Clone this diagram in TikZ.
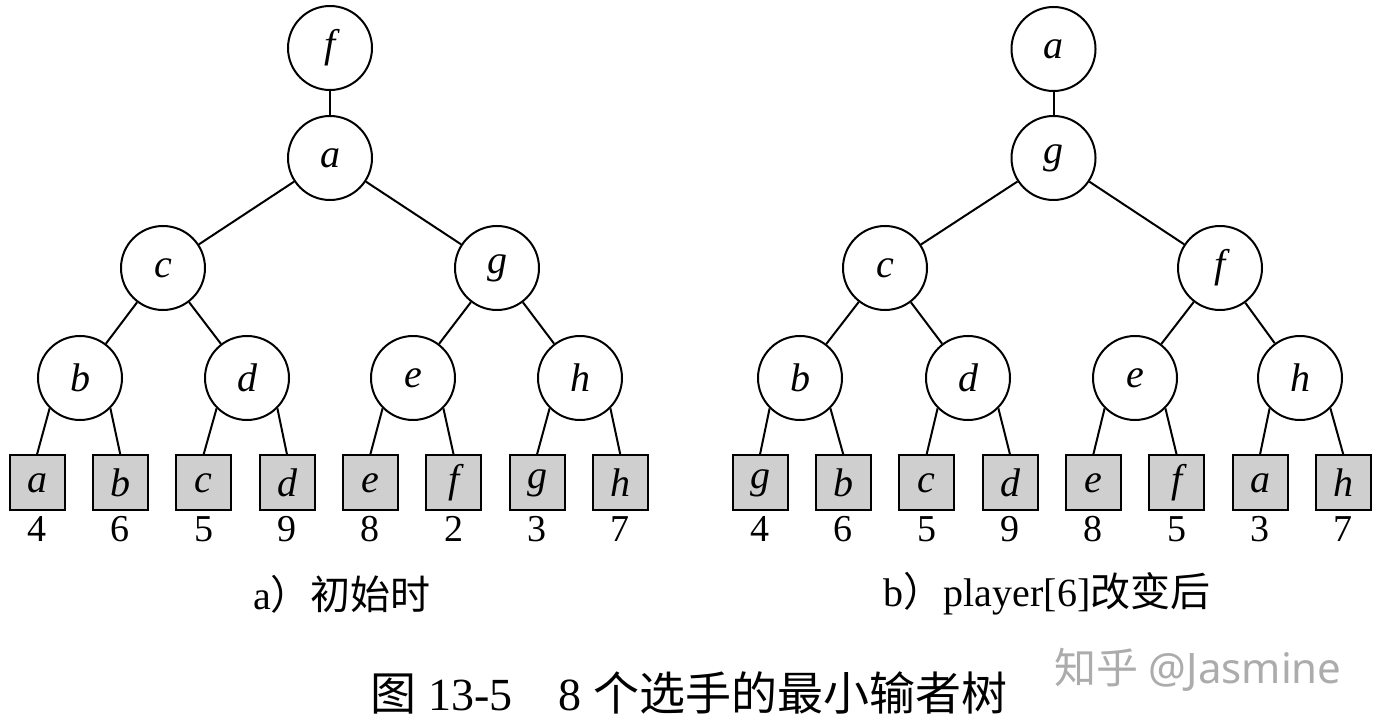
\documentclass[tikz,border=0pt]{standalone}
\usepackage{fontspec}
\setmainfont{Liberation Serif}
\newfontfamily\cjk{Noto Sans CJK SC}
\newfontfamily\wmfont{Noto Sans}
\begin{document}
\begin{tikzpicture}[x=0.5pt,y=-0.5pt,
  inode/.style={circle, draw, line width=1pt, minimum size=42pt, inner sep=0pt,
    font=\fontsize{20}{24}\selectfont\itshape},
  leaf/.style={rectangle, draw, line width=1pt, fill=gray!38, minimum size=27.5pt, inner sep=0pt,
    font=\fontsize{20}{24}\selectfont\itshape},
  num/.style={inner sep=0pt, font=\fontsize{19}{22}\selectfont},
  edge/.style={line width=1pt},
  captxt/.style={inner sep=0pt, font=\fontsize{20}{24}\selectfont},
  bigcaptxt/.style={inner sep=0pt, font=\fontsize{23}{27}\selectfont},
  wmtxt/.style={inner sep=0pt, text=gray!65, font=\fontsize{21}{25}\selectfont}
]
\useasboundingbox (0,0) rectangle (1381,726);

% ---------- tree a ----------
\node[inode] (A1) at (330,48) {f};
\node[inode] (A2) at (330,158) {a};
\node[inode] (A3) at (163,268) {c};
\node[inode] (A4) at (497,268) {g};
\node[inode] (A5) at (80,378) {b};
\node[inode] (A6) at (247,378) {d};
\node[inode] (A7) at (413,378) {e};
\node[inode] (A8) at (580,378) {h};
\node[leaf] (AL1) at (37,483) {a};
\node[leaf] (AL2) at (120.3,483) {b};
\node[leaf] (AL3) at (203.6,483) {c};
\node[leaf] (AL4) at (287,483) {d};
\node[leaf] (AL5) at (370.3,483) {e};
\node[leaf] (AL6) at (453.6,483) {f};
\node[leaf] (AL7) at (537,483) {g};
\node[leaf] (AL8) at (620.3,483) {h};
\node[num] (AN1) at (37,529) {4};
\node[num] (AN2) at (120.3,529) {6};
\node[num] (AN3) at (203.6,529) {5};
\node[num] (AN4) at (287,529) {9};
\node[num] (AN5) at (370.3,529) {8};
\node[num] (AN6) at (453.6,529) {2};
\node[num] (AN7) at (537,529) {3};
\node[num] (AN8) at (620.3,529) {7};
\draw[edge] (A1) -- (A2);
\draw[edge] (A2) -- (A3);
\draw[edge] (A2) -- (A4);
\draw[edge] (A3) -- (A5);
\draw[edge] (A3) -- (A6);
\draw[edge] (A4) -- (A7);
\draw[edge] (A4) -- (A8);
\draw[edge] (A5.-135) -- (AL1.north);
\draw[edge] (A5.-45) -- (AL2.north);
\draw[edge] (A6.-135) -- (AL3.north);
\draw[edge] (A6.-45) -- (AL4.north);
\draw[edge] (A7.-135) -- (AL5.north);
\draw[edge] (A7.-45) -- (AL6.north);
\draw[edge] (A8.-135) -- (AL7.north);
\draw[edge] (A8.-45) -- (AL8.north);

% ---------- tree b ----------
\node[inode] (B1) at (1053.5,49) {a};
\node[inode] (B2) at (1053.5,158) {g};
\node[inode] (B3) at (885,268) {c};
\node[inode] (B4) at (1220,268) {f};
\node[inode] (B5) at (800,378) {b};
\node[inode] (B6) at (968,378) {d};
\node[inode] (B7) at (1135,378) {e};
\node[inode] (B8) at (1300,378) {h};
\node[leaf] (BL1) at (760,483) {g};
\node[leaf] (BL2) at (843.3,483) {b};
\node[leaf] (BL3) at (926.6,483) {c};
\node[leaf] (BL4) at (1010,483) {d};
\node[leaf] (BL5) at (1093.3,483) {e};
\node[leaf] (BL6) at (1176.6,483) {f};
\node[leaf] (BL7) at (1260,483) {a};
\node[leaf] (BL8) at (1343.3,483) {h};
\node[num] (BN1) at (760,529) {4};
\node[num] (BN2) at (843.3,529) {6};
\node[num] (BN3) at (926.6,529) {5};
\node[num] (BN4) at (1010,529) {9};
\node[num] (BN5) at (1093.3,529) {8};
\node[num] (BN6) at (1176.6,529) {5};
\node[num] (BN7) at (1260,529) {3};
\node[num] (BN8) at (1343.3,529) {7};
\draw[edge] (B1) -- (B2);
\draw[edge] (B2) -- (B3);
\draw[edge] (B2) -- (B4);
\draw[edge] (B3) -- (B5);
\draw[edge] (B3) -- (B6);
\draw[edge] (B4) -- (B7);
\draw[edge] (B4) -- (B8);
\draw[edge] (B5.-135) -- (BL1.north);
\draw[edge] (B5.-45) -- (BL2.north);
\draw[edge] (B6.-135) -- (BL3.north);
\draw[edge] (B6.-45) -- (BL4.north);
\draw[edge] (B7.-135) -- (BL5.north);
\draw[edge] (B7.-45) -- (BL6.north);
\draw[edge] (B8.-135) -- (BL7.north);
\draw[edge] (B8.-45) -- (BL8.north);

% ---------- captions ----------
\node[captxt] (capA) at (342,594) {a{\cjk ）初始时}};
\node[captxt] (capB) at (1047,594) {b{\cjk ）}player[6]{\cjk 改变后}};
\node[bigcaptxt] (capM) at (689,693) {{\cjk 图} 13-5\quad 8 {\cjk 个选手的最小输者树}};
\node[wmtxt] (wmk) at (1198,670) {{\cjk 知乎} {\wmfont @Jasmine}};
\end{tikzpicture}
\end{document}
